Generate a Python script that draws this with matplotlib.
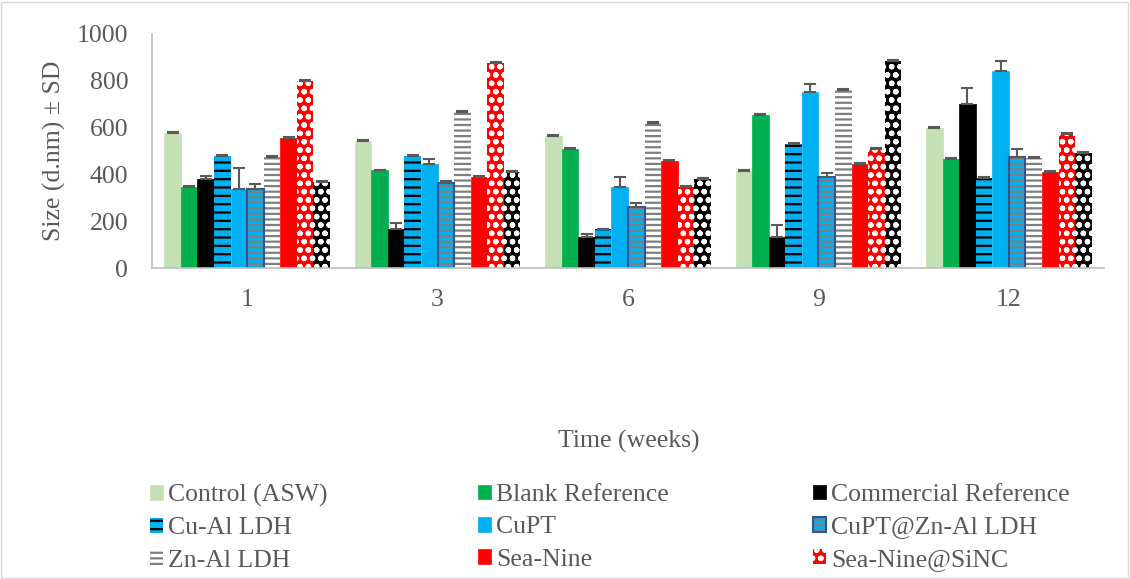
#!/usr/bin/env python
# -*- coding: utf-8 -*-
"""Grouped bar chart: particle size (d.nm) over time for the coating series."""

import matplotlib
matplotlib.use('Agg')
import matplotlib.pyplot as plt
import matplotlib.patches as mpatches
from matplotlib.legend_handler import HandlerTuple
import numpy as np

##############################################################################
# Data

weeks = ['1', '3', '6', '9', '12']

control   = [578, 544, 565, 414, 600]
blank     = [345, 417, 510, 654, 466]
commerc   = [380, 167, 131, 131, 699]
cual      = [479, 479, 165, 531, 385]
cupt      = [338, 443, 348, 754, 843]
cupt_znal = [338, 362, 259, 389, 474]
znal      = [473, 667, 621, 762, 470]
seanine   = [557, 390, 459, 443, 409]
sn_sinc   = [799, 875, 345, 508, 574]
extra     = [369, 412, 380, 886, 491]

# upward standard deviations
err_control   = [4, 4, 4, 4, 4]
err_blank     = [4, 4, 4, 4, 4]
err_commerc   = [15, 27, 13, 54, 69]
err_cual      = [4, 4, 4, 4, 4]
err_cupt      = [88, 21, 42, 32, 40]
err_cupt_znal = [21, 10, 20, 17, 36]
err_znal      = [4, 4, 4, 4, 4]
err_seanine   = [4, 4, 4, 4, 4]
err_sn_sinc   = [4, 4, 4, 4, 4]
err_extra     = [4, 4, 4, 4, 4]

labels = ['Control (ASW)', 'Blank Reference', 'Commercial Reference',
          'Cu-Al LDH', 'CuPT', 'CuPT@Zn-Al LDH',
          'Zn-Al LDH', 'Sea-Nine', 'Sea-Nine@SiNC', '_extra']

series = [control, blank, commerc, cual, cupt, cupt_znal,
          znal, seanine, sn_sinc, extra]
errors = [err_control, err_blank, err_commerc, err_cual, err_cupt,
          err_cupt_znal, err_znal, err_seanine, err_sn_sinc, err_extra]

# (face, hatch colour, hatch, outline colour)
styles = [('#C5E0B4', '#C5E0B4', None, None),
          ('#00B050', '#00B050', None, None),
          ('black', 'black', None, None),
          ('#00B0F0', 'black', '--', None),
          ('#00B0F0', '#00B0F0', None, None),
          ('#00B0F0', '#7F7F7F', '---', '#2F5597'),
          ('white', '#7F7F7F', '---', None),
          ('#FF0000', '#FF0000', None, None),
          ('#FF0000', 'white', 'oo', None),
          ('black', 'white', 'oo', None)]

#-----------------------------------------------------------------------------
# Plot

plt.rcParams['font.family'] = ['Liberation Serif', 'DejaVu Serif']
plt.rcParams['hatch.linewidth'] = 1.6
GREY_TXT = '#595959'
FS = 18.5

fig = plt.figure(figsize=(11.3, 5.79), dpi=100)
ax = fig.add_axes([0.1345, 0.537, 0.8425, 0.4043])

x = np.arange(len(weeks))
w = 0.087
handles = []
for i, (vals, errs, st) in enumerate(zip(series, errors, styles)):
    face, hcol, hatch, outline = st
    pos = x + (i - 4.5) * w
    bars = ax.bar(pos, vals, w, color=face, edgecolor=hcol, hatch=hatch,
                  linewidth=0 if hatch else 0.5, zorder=2)
    h = bars.patches[0]
    if outline:
        ob = ax.bar(pos, vals, w, fill=False, edgecolor=outline,
                    linewidth=1.5, zorder=2.5)
        h = (bars.patches[0], ob.patches[0])
    ax.errorbar(pos, vals, yerr=[np.zeros(len(vals)), errs], fmt='none',
                ecolor=GREY_TXT, elinewidth=1.5, capsize=4, capthick=1.5,
                zorder=3)
    handles.append(h)

ax.set_xlim(-0.5, len(weeks) - 0.5)
ax.set_ylim(0, 1000)
ax.set_yticks(range(0, 1001, 200))
ax.set_xticks(x)
ax.set_xticklabels(weeks)
ax.tick_params(axis='both', length=0, labelsize=FS, labelcolor=GREY_TXT)
ax.tick_params(axis='x', pad=15)
ax.tick_params(axis='y', pad=17)
for s in ['top', 'right']:
    ax.spines[s].set_visible(False)
for s in ['left', 'bottom']:
    ax.spines[s].set_color('#BFBFBF')
    ax.spines[s].set_linewidth(1.2)

ax.set_ylabel('Size (d.nm) \u00b1 SD', fontsize=FS, color=GREY_TXT,
              labelpad=8)
fig.text(0.556, 0.238, 'Time (weeks)', ha='center', va='center',
         fontsize=FS, color=GREY_TXT)

# legend, three columns laid out like the original
col_x = [0.1327, 0.423, 0.7195]
for c in range(3):
    idx = [c, c + 3, c + 6]
    lg = fig.legend([handles[k] for k in idx], [labels[k] for k in idx],
                    loc='upper left', bbox_to_anchor=(col_x[c], 0.164),
                    frameon=False, fontsize=FS, handlelength=0.5,
                    handleheight=0.5, handletextpad=0.2, labelspacing=0.4,
                    borderaxespad=0, borderpad=0,
                    handler_map={tuple: HandlerTuple(ndivide=1)})
    for t in lg.get_texts():
        t.set_color(GREY_TXT)

# chart border
fig.patches.append(mpatches.Rectangle((0.001, 0.002), 0.997, 0.995,
                                      transform=fig.transFigure, fill=False,
                                      edgecolor='#D9D9D9', linewidth=1))

fig.savefig('out.png', dpi=100)
